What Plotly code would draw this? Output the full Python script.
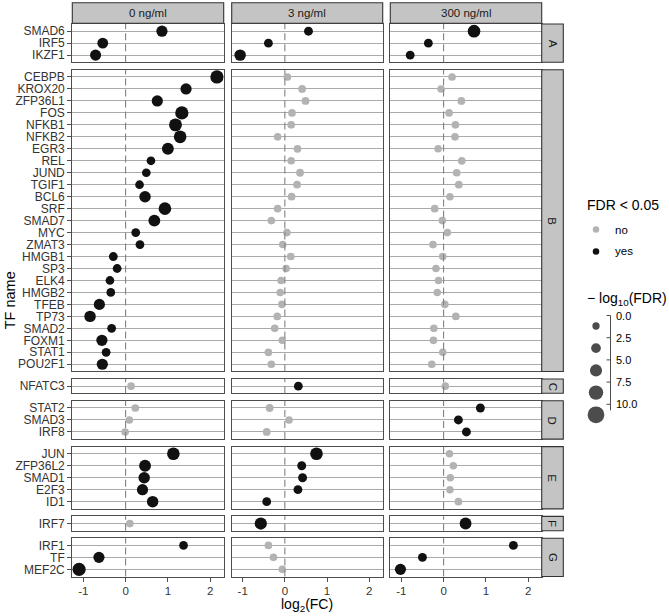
import math
import plotly.graph_objects as go

W, H = 669, 616

# ---------------- data ----------------
conditions = ["0 ng/ml", "3 ng/ml", "300 ng/ml"]
group_labels = ["A", "B", "C", "D", "E", "F", "G"]

tf_A = ["SMAD6", "IRF5", "IKZF1"]
tf_B = ["CEBPB", "KROX20", "ZFP36L1", "FOS", "NFKB1", "NFKB2", "EGR3", "REL",
        "JUND", "TGIF1", "BCL6", "SRF", "SMAD7", "MYC", "ZMAT3", "HMGB1", "SP3",
        "ELK4", "HMGB2", "TFEB", "TP73", "SMAD2", "FOXM1", "STAT1", "POU2F1"]
tf_C = ["NFATC3"]
tf_D = ["STAT2", "SMAD3", "IRF8"]
tf_E = ["JUN", "ZFP36L2", "SMAD1", "E2F3", "ID1"]
tf_F = ["IRF7"]
tf_G = ["IRF1", "TF", "MEF2C"]

# log2(FC), order: A, B, C, D, E, F, G
lfc_0ng = [0.86, -0.54, -0.71,
           2.16, 1.43, 0.75, 1.33, 1.18, 1.29, 1.00, 0.60, 0.49, 0.33, 0.46, 0.93,
           0.68, 0.24, 0.34, -0.29, -0.20, -0.37, -0.35, -0.62, -0.84, -0.33, -0.56,
           -0.46, -0.55,
           0.13,
           0.23, 0.09, -0.01,
           1.13, 0.46, 0.44, 0.40, 0.64,
           0.10,
           1.37, -0.63, -1.10]
lfc_3ng = [0.56, -0.39, -1.06,
           0.06, 0.41, 0.49, 0.17, 0.15, -0.17, 0.30, 0.15, 0.36, 0.29, 0.16, -0.17,
           -0.32, 0.05, -0.05, 0.14, 0.03, -0.09, -0.11, -0.07, -0.18, -0.24, -0.06,
           -0.39, -0.32,
           0.32,
           -0.36, 0.10, -0.43,
           0.75, 0.40, 0.42, 0.31, -0.43,
           -0.57,
           -0.39, -0.27, -0.06]
lfc_300ng = [0.72, -0.36, -0.79,
             0.20, -0.06, 0.42, 0.13, 0.28, 0.27, -0.13, 0.43, 0.31, 0.36, 0.15, -0.21,
             -0.03, 0.09, -0.25, -0.02, -0.18, -0.12, -0.15, 0.03, 0.29, -0.23, -0.24,
             -0.02, -0.28,
             0.04,
             0.87, 0.35, 0.54,
             0.14, 0.23, 0.16, 0.15, 0.35,
             0.52,
             1.65, -0.50, -1.02]

# -log10(FDR), same order
nlfdr_0ng = [4.1, 3.7, 4.0,
             6.3, 4.1, 4.1, 6.3, 5.9, 5.6, 4.8, 1.5, 1.5, 1.5, 4.4, 5.6,
             4.8, 1.6, 1.6, 1.6, 1.6, 1.5, 1.5, 4.1, 4.4, 1.6, 4.1,
             1.6, 4.1,
             0.4,
             0.4, 0.3, 0.3,
             5.6, 4.8, 4.4, 4.1, 4.4,
             0.4,
             1.5, 4.1, 6.3]
nlfdr_3ng = [1.7, 1.6, 4.4,
             0.4, 0.5, 0.5, 0.4, 0.4, 0.4, 0.5, 0.4, 0.5, 0.4, 0.4, 0.4,
             0.4, 0.3, 0.3, 0.4, 0.3, 0.3, 0.3, 0.3, 0.4, 0.4, 0.3,
             0.5, 0.4,
             1.6,
             0.5, 0.3, 0.5,
             5.6, 1.7, 1.7, 1.6, 1.6,
             5.2,
             0.4, 0.4, 0.3]
nlfdr_300ng = [5.6, 1.6, 1.7,
               0.4, 0.3, 0.5, 0.3, 0.4, 0.4, 0.3, 0.5, 0.4, 0.4, 0.3, 0.4,
               0.3, 0.3, 0.4, 0.3, 0.3, 0.3, 0.3, 0.3, 0.4, 0.4, 0.4,
               0.3, 0.4,
               0.3,
               1.7, 1.7, 1.7,
               0.3, 0.3, 0.3, 0.3, 0.4,
               4.8,
               1.7, 1.7, 4.1]

x_ticks = [-1, 0, 1, 2]
x_ticktext = ["-1", "0", "1", "2"]
size_legend_values = [0.0, 2.5, 5.0, 7.5, 10.0]
size_legend_text = ["0.0", "2.5", "5.0", "7.5", "10.0"]
sig_legend = ["no", "yes"]

# ---------------- styling ----------------
FONT = "Liberation Sans, Arial, Helvetica, sans-serif"
COL_YES = "#111111"
COL_NO = "#B3B3B3"
BORDER = "#4D4D4D"
GRID = "#AAAAAA"
STRIP_FILL = "#C4C4C4"
STRIP_LINE = "#333333"
TXT = "#333333"
SIG_CUT = -math.log10(0.05)


def dot_size(v):
    return 7.3 + 0.95 * v


def px(x):
    return x / W


def py(y):
    return 1 - y / H


tf_groups = [tf_A, tf_B, tf_C, tf_D, tf_E, tf_F, tf_G]
lfc = [lfc_0ng, lfc_3ng, lfc_300ng]
nlf = [nlfdr_0ng, nlfdr_3ng, nlfdr_300ng]

col_px = [(72.3, 223.7), (231.7, 382.7), (390.3, 541.7)]
UNIT, GAP, TOP = 11.97, 7.5, 24.0
row_px = []
yy = TOP
for g in tf_groups:
    h = (len(g) + 0.2) * UNIT
    row_px.append((yy, yy + h))
    yy += h + GAP

x_range = [-1.26, 2.32]

fig = go.Figure()
axes = {}
shapes = []
annotations = []

start = 0
for r, g in enumerate(tf_groups):
    n = len(g)
    idx = list(range(start, start + n))
    for c in range(3):
        k = r * 3 + c + 1
        sfx = "" if k == 1 else str(k)
        xs = [lfc[c][i] for i in idx]
        vs = [nlf[c][i] for i in idx]
        cols = [COL_YES if v > SIG_CUT else COL_NO for v in vs]
        fig.add_trace(go.Scatter(
            x=xs, y=g, mode="markers",
            marker=dict(size=[dot_size(v) for v in vs], color=cols, line=dict(width=0), opacity=1),
            xaxis="x" + sfx, yaxis="y" + sfx, showlegend=False, hoverinfo="skip"))
        bottom = (r == len(tf_groups) - 1)
        axes["xaxis" + sfx] = dict(
            domain=[px(col_px[c][0]), px(col_px[c][1])], range=x_range,
            anchor="y" + sfx, showgrid=False, zeroline=False,
            showline=True, mirror=True, linecolor=BORDER, linewidth=1.3,
            tickmode="array", tickvals=x_ticks, ticktext=x_ticktext,
            ticks="outside" if bottom else "", ticklen=4, tickcolor=BORDER, tickwidth=1.1,
            showticklabels=bottom, tickfont=dict(family=FONT, size=11.5, color=TXT),
            fixedrange=True)
        axes["yaxis" + sfx] = dict(
            domain=[py(row_px[r][1]), py(row_px[r][0])], anchor="x" + sfx,
            type="category", categoryorder="array", categoryarray=g[::-1],
            tickmode="array", tickvals=g, ticktext=g,
            range=[-0.6, n - 0.4], showgrid=True, gridcolor=GRID, gridwidth=1.3,
            zeroline=False, showline=True, mirror=True, linecolor=BORDER, linewidth=1.3,
            ticks="outside" if c == 0 else "", ticklen=4, tickcolor=BORDER, tickwidth=1.1,
            showticklabels=(c == 0), tickfont=dict(family=FONT, size=12, color=TXT),
            fixedrange=True)
        shapes.append(dict(type="line", xref="x" + sfx, yref="y" + sfx + " domain",
                           x0=0, x1=0, y0=0, y1=1, layer="above",
                           line=dict(color="#808080", width=1.1, dash="7px,4px")))
    start += n

# column strips
for c, lab in enumerate(conditions):
    shapes.append(dict(type="rect", xref="paper", yref="paper",
                       x0=px(col_px[c][0]), x1=px(col_px[c][1]), y0=py(23.3), y1=py(2.7),
                       fillcolor=STRIP_FILL, line=dict(color=STRIP_LINE, width=1.1), layer="above"))
    annotations.append(dict(text=lab, xref="paper", yref="paper",
                            x=px((col_px[c][0] + col_px[c][1]) / 2), y=py(13),
                            showarrow=False, xanchor="center", yanchor="middle",
                            font=dict(family=FONT, size=11.5, color="#1A1A1A")))
# row strips
for r, lab in enumerate(group_labels):
    shapes.append(dict(type="rect", xref="paper", yref="paper",
                       x0=px(541.7), x1=px(563.3), y0=py(row_px[r][1]), y1=py(row_px[r][0]),
                       fillcolor=STRIP_FILL, line=dict(color=STRIP_LINE, width=1.1), layer="above"))
    annotations.append(dict(text=lab, xref="paper", yref="paper",
                            x=px(552.5), y=py((row_px[r][0] + row_px[r][1]) / 2),
                            showarrow=False, textangle=90, xanchor="center", yanchor="middle",
                            font=dict(family=FONT, size=11.5, color="#1A1A1A")))

# axis titles
annotations.append(dict(text="log<sub>2</sub>(FC)", xref="paper", yref="paper",
                        x=px((col_px[0][0] + col_px[2][1]) / 2), y=py(605),
                        showarrow=False, xanchor="center", yanchor="middle",
                        font=dict(family=FONT, size=14, color="#000000")))
annotations.append(dict(text="TF name", xref="paper", yref="paper",
                        x=px(10), y=py((row_px[0][0] + row_px[-1][1]) / 2),
                        showarrow=False, textangle=-90, xanchor="center", yanchor="middle",
                        font=dict(family=FONT, size=14.5, color="#000000")))

# ---------------- manual legend ----------------
LX0, LX1, LY0, LY1 = 570.0, 669.0, 190.0, 430.0
axes["xaxis30"] = dict(domain=[px(LX0), px(LX1)], range=[LX0, LX1], visible=False,
                       anchor="y30", fixedrange=True)
axes["yaxis30"] = dict(domain=[py(LY1), py(LY0)], range=[LY1, LY0], visible=False,
                       anchor="x30", fixedrange=True)

KEY_X = 596.0
annotations.append(dict(text="FDR < 0.05", xref="paper", yref="paper", x=px(584.5), y=py(205),
                        showarrow=False, xanchor="left", yanchor="middle",
                        font=dict(family=FONT, size=14, color="#000000")))
sig_y = [229.5, 251.5]
fig.add_trace(go.Scatter(x=[KEY_X, KEY_X], y=sig_y, mode="markers", xaxis="x30", yaxis="y30",
                         marker=dict(size=6.5, color=[COL_NO, COL_YES], line=dict(width=0)),
                         showlegend=False, hoverinfo="skip"))
for lab, y in zip(sig_legend, sig_y):
    annotations.append(dict(text=lab, xref="paper", yref="paper", x=px(612.5), y=py(y),
                            showarrow=False, xanchor="left", yanchor="middle",
                            font=dict(family=FONT, size=11.5, color="#000000")))
annotations.append(dict(text="\u2212 log<sub>10</sub>(FDR)", xref="paper", yref="paper",
                        x=px(584.5), y=py(299), showarrow=False, xanchor="left", yanchor="middle",
                        font=dict(family=FONT, size=14, color="#000000")))
STEP = 22.2
lab_y = [315.5 + STEP * i for i in range(len(size_legend_values))]
dot_y = [y + 10.5 for y in lab_y]
fig.add_trace(go.Scatter(x=[KEY_X] * len(size_legend_values), y=dot_y, mode="markers",
                         xaxis="x30", yaxis="y30",
                         marker=dict(size=[dot_size(v) for v in size_legend_values],
                                     color="#000000", line=dict(width=0)),
                         showlegend=False, hoverinfo="skip"))
LINE_X = 610.5
shapes.append(dict(type="line", xref="paper", yref="paper", x0=px(LINE_X), x1=px(LINE_X),
                   y0=py(lab_y[0]), y1=py(lab_y[-1] + 6), line=dict(color="#4D4D4D", width=1)))
for t, y in zip(size_legend_text, lab_y):
    shapes.append(dict(type="line", xref="paper", yref="paper", x0=px(LINE_X - 4), x1=px(LINE_X),
                       y0=py(y), y1=py(y), line=dict(color="#4D4D4D", width=1)))
    annotations.append(dict(text=t, xref="paper", yref="paper", x=px(613.5), y=py(y),
                            showarrow=False, xanchor="left", yanchor="middle",
                            font=dict(family=FONT, size=11, color="#000000")))

fig.update_layout(
    width=W, height=H, margin=dict(l=0, r=0, t=0, b=0, pad=0),
    paper_bgcolor="white", plot_bgcolor="white",
    showlegend=False, shapes=shapes, annotations=annotations,
    font=dict(family=FONT, color=TXT),
    **axes)

fig.write_html("out.html")
